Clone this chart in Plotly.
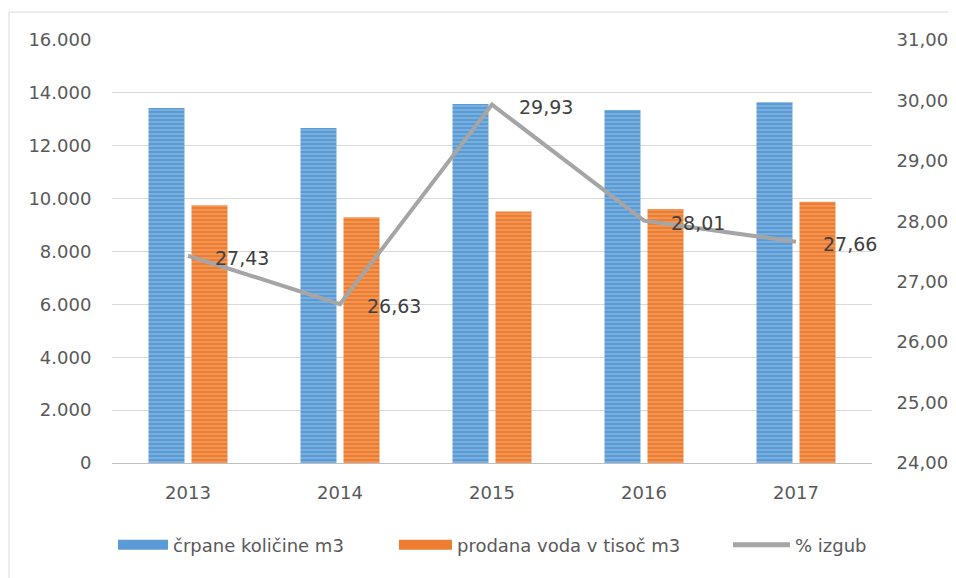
import plotly.graph_objects as go

years = ["2013", "2014", "2015", "2016", "2017"]
crpane = [13430, 12670, 13580, 13350, 13650]
prodana = [9745, 9300, 9515, 9610, 9880]
izgub = [27.43, 26.63, 29.93, 28.01, 27.66]
izgub_labels = [f"{v:.2f}".replace(".", ",") for v in izgub]

names = ["črpane količine m3", "prodana voda v tisoč m3", "% izgub"]
BLUE, BLUE_L = "#5b9bd5", "#a8cbea"
ORANGE, ORANGE_L = "#ed7d31", "#f6b98c"
GRAY = "#a5a5a5"

FONT = "DejaVu Sans"
fig = go.Figure()
fig.add_trace(go.Bar(
    x=years, y=crpane, name=names[0], showlegend=False,
    marker=dict(color=BLUE, line=dict(width=0),
                pattern=dict(shape="-", fgcolor=BLUE_L, size=4, solidity=0.4)),
))
fig.add_trace(go.Bar(
    x=years, y=prodana, name=names[1], showlegend=False,
    marker=dict(color=ORANGE, line=dict(width=0),
                pattern=dict(shape="-", fgcolor=ORANGE_L, size=4, solidity=0.4)),
))
fig.add_trace(go.Scatter(
    x=years, y=izgub, name=names[2], yaxis="y2", showlegend=False,
    mode="lines", line=dict(color=GRAY, width=4),
))
# legend entries, each in its own legend box
legend_specs = [(names[0], BLUE, 15, "legend", 0.0013, 50),
                (names[1], ORANGE, 15, "legend2", 0.371, 53),
                (names[2], GRAY, 5, "legend3", 0.8105, 57)]
for nm, col, w, lg, _, _ in legend_specs:
    fig.add_trace(go.Scatter(x=years[:1], y=[None], mode="lines", name=nm, legend=lg,
                             line=dict(color=col, width=w), showlegend=True,
                             hoverinfo="skip"))

for i, (v, lab) in enumerate(zip(izgub, izgub_labels)):
    fig.add_annotation(x=i, y=v, xref="x", yref="y2", text=lab, showarrow=False,
                       xanchor="left", yanchor="middle", xshift=25, yshift=-2,
                       font=dict(family=FONT, size=19, color="#404040"))

legend_layout = {}
for nm, col, w, lg, lx, iw in legend_specs:
    legend_layout[lg] = dict(orientation="h", x=lx, xanchor="left", y=-0.194,
                             yanchor="middle", font=dict(size=18, color="#595959"),
                             itemwidth=iw, bgcolor="rgba(0,0,0,0)")

fig.update_layout(
    width=948, height=570,
    margin=dict(l=104, r=84, t=32, b=115, autoexpand=False),
    paper_bgcolor="white", plot_bgcolor="white",
    separators=",.",
    font=dict(family=FONT, size=18, color="#595959"),
    barmode="group", bargap=0.434, bargroupgap=0.163,
    xaxis=dict(type="category", categoryorder="array", categoryarray=years,
               range=[-0.5, len(years) - 0.5],
               showgrid=False, showline=True, linecolor="#bfbfbf",
               linewidth=1, ticks="outside", ticklen=13, tickcolor="rgba(0,0,0,0)"),
    yaxis=dict(range=[0, 16000], dtick=2000, tickformat=",d", showgrid=True,
               gridcolor="#d9d9d9", gridwidth=1, zeroline=False, showline=False,
               ticks="outside", ticklen=16, tickcolor="rgba(0,0,0,0)"),
    yaxis2=dict(range=[24, 31], dtick=1, tickformat=".2f", overlaying="y",
                side="right", showgrid=False, zeroline=False, showline=False,
                ticks="outside", ticklen=20, tickcolor="rgba(0,0,0,0)"),
    showlegend=True,
    **legend_layout,
)
fig.add_shape(type="rect", xref="paper", yref="paper",
              x0=-0.1355, x1=1.12, y0=-0.3, y1=1.066,
              line=dict(color="#d9d9d9", width=1), fillcolor="rgba(0,0,0,0)", layer="below")
fig.write_html("out.html")
